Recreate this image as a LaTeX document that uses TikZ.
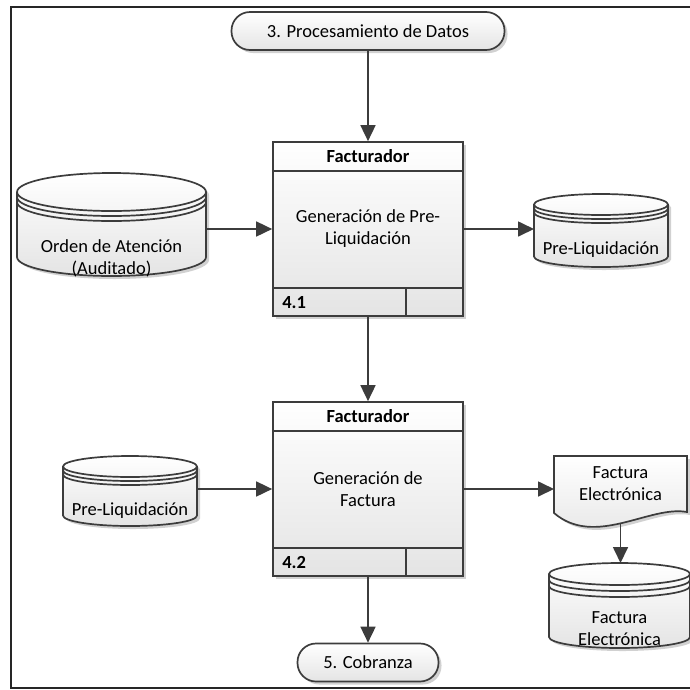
\documentclass[tikz,border=0pt]{standalone}
\usepackage{fontspec}
\setmainfont{Carlito}
\usetikzlibrary{arrows.meta,calc,shadows,backgrounds}

\definecolor{linec}{HTML}{3C3C3C}
\definecolor{fillb}{HTML}{E4E4E4}

\tikzset{
  edge/.style={draw=linec, line width=1.7pt},
  flow/.style={edge, -{Triangle[length=16pt,width=15pt]}},
  soft/.style={drop shadow={opacity=0.18, shadow xshift=3pt, shadow yshift=-3pt, fill=black}},
  shadefill/.style={top color=white, bottom color=fillb},
  terminal/.style={edge, shadefill, soft, rounded corners=18.5pt, minimum height=38pt, inner sep=0pt},
  procbox/.style={edge, shadefill, soft, minimum width=190pt, minimum height=174pt, inner sep=0pt, align=center},
  frame/.style={inner sep=0pt, outer sep=0pt},
  txt/.style={align=center, inner sep=1pt},
  hdr/.style={font=\fontsize{18.5}{22}\selectfont\bfseries, inner sep=1pt},
}

% storage cylinder drawn inside the box of a named node: #1 node, #2 y-radius, #3 ring gap
\newcommand\dbstore[3]{%
  \draw[edge, shadefill, soft] let \p1=(#1.north west), \p2=(#1.south east), \n1={(\x2-\x1)/2} in
    (\x1,\y1-#2) -- (\x1,\y2+#2)
    arc[start angle=180, end angle=360, x radius=\n1, y radius=#2]
    -- (\x2,\y1-#2)
    arc[start angle=0, end angle=180, x radius=\n1, y radius=#2] -- cycle;
  \draw[edge] let \p1=(#1.north west), \p2=(#1.south east), \n1={(\x2-\x1)/2} in
    (\x1,\y1-#2) arc[start angle=180, end angle=360, x radius=\n1, y radius=#2]
    (\x1,\y1-#2-#3) arc[start angle=180, end angle=360, x radius=\n1, y radius=#2]
    (\x1,\y1-#2-#3-#3) arc[start angle=180, end angle=360, x radius=\n1, y radius=#2];
}

\begin{document}
\begin{tikzpicture}[x=1pt, y=1pt, font=\fontsize{18.5}{22}\selectfont]
\useasboundingbox (0,0) rectangle (690,-689);

% outer frame
\draw[line width=1.6pt, draw=black!85] (692,-7) -- (11,-7) -- (11,-688) -- (692,-688);

% terminals
\node[terminal, minimum width=273pt] (t3) at (368,-31) {3. Procesamiento de Datos};
\node[terminal, minimum width=141pt] (t5) at (368,-662.5) {5. Cobranza};

% process boxes
\node[procbox] (p41) at (368,-229) {Generación de Pre-\\Liquidación};
\node[procbox] (p42) at (368,-489) {Generación de\\Factura};

\foreach \p/\n in {p41/4.1, p42/4.2}{
  \draw[edge] ($(\p.north west)+(0,-30)$) -- ($(\p.north east)+(0,-30)$);
  \draw[edge] ($(\p.south west)+(0,29)$) -- ($(\p.south east)+(0,29)$);
  \draw[edge] ($(\p.south east)+(-58,29)$) -- ($(\p.south east)+(-58,0)$);
  \node[hdr] (\p h) at ($(\p.north)+(0,-15)$) {Facturador};
  \node[hdr, anchor=west] (\p n) at ($(\p.south west)+(9,-14.5)+(0,29)$) {\n};
}

% frames of the stores and the document
\node[frame, minimum width=189pt, minimum height=103pt] (dbA) at (111.5,-224.5) {};
\node[frame, minimum width=134pt, minimum height=73pt] (dbB) at (601,-230.5) {};
\node[frame, minimum width=134pt, minimum height=70pt] (dbC) at (130,-491) {};
\node[frame, minimum width=141pt, minimum height=85pt] (dbD) at (619.5,-605.5) {};
\node[frame, minimum width=133pt, minimum height=55pt] (doc) at (620.5,-483.5) {};

\begin{scope}[on background layer]
  \dbstore{dbA}{19pt}{5pt}
  \dbstore{dbB}{10.5pt}{4pt}
  \dbstore{dbC}{10.5pt}{4pt}
  \dbstore{dbD}{11pt}{6pt}
  \draw[edge, shadefill, soft] (doc.north west) -- (doc.north east)
    -- ($(doc.south east)+(0,-1)$)
    .. controls ($(doc.south west)+(96,6)$) and ($(doc.south west)+(41,-37)$) .. ($(doc.south west)+(0,-2)$)
    -- cycle;
\end{scope}

% texts of the stores and the document
\node[txt] (dbAt) at (111.5,-258.5) {Orden de Atención\\(Auditado)};
\node[txt] (dbBt) at (601,-250) {Pre-Liquidación};
\node[txt] (dbCt) at (130,-511) {Pre-Liquidación};
\node[txt] (dbDt) at (619.5,-629) {Factura\\Electrónica};
\node[txt] (doct) at (620.5,-483.5) {Factura\\Electrónica};

\coordinate (docb) at ($(doc.south)+(0,-12)$);

% connectors
\draw[flow] (t3.south) -- (p41.north);
\draw[flow] (dbA.east |- p41.west) -- (p41.west);
\draw[flow] (p41.east) -- (p41.east -| dbB.west);
\draw[flow] (p41.south) -- (p42.north);
\draw[flow] (dbC.east |- p42.west) -- (p42.west);
\draw[flow] (p42.east) -- (p42.east -| doc.west);
\draw[flow] (docb) -- (docb |- dbD.north);
\draw[flow] (p42.south) -- (t5.north);
\end{tikzpicture}
\end{document}
